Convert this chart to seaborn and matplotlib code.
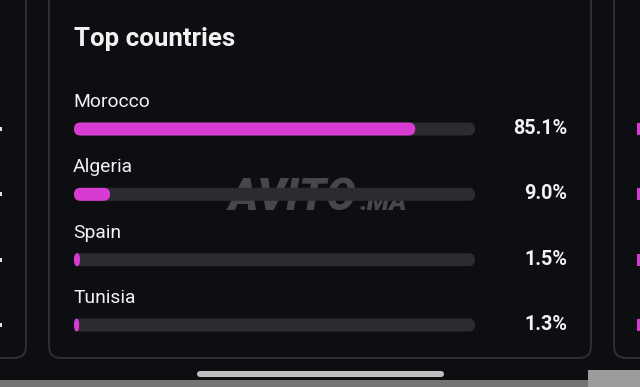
import matplotlib
matplotlib.use("Agg")
import matplotlib.pyplot as plt
import seaborn as sns
import pandas as pd
from matplotlib.patches import FancyBboxPatch, Rectangle

# ---- data ----
countries = ["Morocco", "Algeria", "Spain", "Tunisia"]
shares = [85.1, 9.0, 1.5, 1.3]
share_labels = ["85.1%", "9.0%", "1.5%", "1.3%"]
track_max = [100, 100, 100, 100]
title = "Top countries"

# ---- style ----
BG = "#0c0e12"
TRACK = "#2a2c30"
FILL = "#d83bd2"
TEXT = "#f2f2f2"
BORDER = "#2e3035"
FONT = "Roboto"

sns.set_theme(style="dark")
plt.rcParams["font.family"] = [FONT, "DejaVu Sans"]

W, H = 640, 387
fig = plt.figure(figsize=(6.4, 3.87), dpi=100, facecolor=BG)

# overlay axes in pixel coordinates for the card chrome
ov = fig.add_axes([0, 0, 1, 1])
ov.set_xlim(0, W)
ov.set_ylim(H, 0)
ov.axis("off")
ov.patch.set_visible(False)

def card(x0, x1, y0, y1):
    ov.add_patch(FancyBboxPatch((x0, y0), x1 - x0, y1 - y0,
                                boxstyle="round,pad=0,rounding_size=12",
                                fill=False, ec=BORDER, lw=1.4))

card(49, 591, -40, 358)
card(-140, 26, -40, 358)
card(614, 780, -40, 358)

# bottom system strip + home indicator
ov.add_patch(Rectangle((0, 379.5), 588, 10, color="#747474", lw=0))
ov.add_patch(Rectangle((588, 370), 60, 20, color="#9c9c9c", lw=0))
ov.add_patch(FancyBboxPatch((197, 371), 247, 6,
                            boxstyle="round,pad=0,rounding_size=3",
                            color="#bfbfbf", lw=0))

# title
ov.text(74, 46, title, color=TEXT, fontsize=18.6, fontweight="bold",
        ha="left", va="baseline")

# ---- bar axes ----
bar_top, bar_bot = 129, 325
n = len(countries)
step = (bar_bot - bar_top) / (n - 1)
y_top_px = bar_top - step / 2
y_bot_px = bar_bot + step / 2
x0_px, x1_px = 74, 475
ax = fig.add_axes([x0_px / W, 1 - y_bot_px / H,
                   (x1_px - x0_px) / W, (y_bot_px - y_top_px) / H])
ax.patch.set_visible(False)

df = pd.DataFrame({"country": countries, "share": shares, "track": track_max})
bw = 13 / step
sns.barplot(data=df, x="track", y="country", orient="h", color=TRACK,
            width=bw, ax=ax, saturation=1, linewidth=0)
n_track = len(ax.patches)
sns.barplot(data=df, x="share", y="country", orient="h", color=FILL,
            width=bw, ax=ax, saturation=1, linewidth=0)
ax.set_xlim(0, 100)
ax.set_ylim(n - 0.5, -0.5)
ax.axis("off")

# round the bar ends
px_per_x = (x1_px - x0_px) / 100.0
px_per_y = step
patches = list(ax.patches)
for i, p in enumerate(patches):
    x, y = p.get_x(), p.get_y()
    w, h = p.get_width(), p.get_height()
    color = p.get_facecolor()
    p.remove()
    w_px = w * px_per_x
    h_px = h * px_per_y
    r_px = min(h_px / 2, w_px / 2)
    r_x = r_px / px_per_x
    r_y_units = (h_px / 2) / px_per_y
    aspect = r_y_units / r_x
    ax.add_patch(FancyBboxPatch((x, y), w, h,
                                boxstyle=f"round,pad=0,rounding_size={r_x}",
                                mutation_aspect=aspect, fc=color, lw=0,
                                zorder=2 if i < n_track else 3, clip_on=False))

# labels and percentages
for i, (c, lab) in enumerate(zip(countries, share_labels)):
    ax.text(-0.2, i - 22 / step, c, color=TEXT, fontsize=13.9,
            ha="left", va="baseline", clip_on=False)
    ax.text((567 - x0_px) / (x1_px - x0_px), i + 5 / step, lab,
            transform=ax.get_yaxis_transform(), color=TEXT, fontsize=14.2,
            fontweight="bold", ha="right", va="baseline", clip_on=False)

# edge glimpses of neighbouring cards
for i in range(n):
    yc = bar_top + i * step
    ov.add_patch(Rectangle((0, yc - 2), 2, 4, color="#e0e0e0", lw=0))
    ov.add_patch(Rectangle((637, yc - 6), 3, 12, color=FILL, lw=0))

# watermark
ov.text(228, 210, "AVITO", color="white", alpha=0.24, fontsize=32,
        fontweight="black", fontstyle="italic", ha="left", va="baseline",
        zorder=5)
ov.text(360, 210, ".MA", color="white", alpha=0.24, fontsize=19,
        fontweight="black", fontstyle="italic", ha="left", va="baseline",
        zorder=5)

fig.savefig("out.png", dpi=100, facecolor=BG)
